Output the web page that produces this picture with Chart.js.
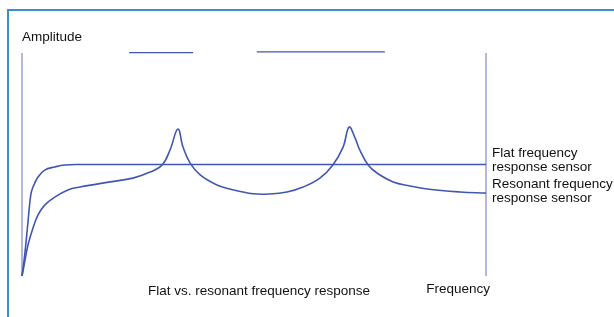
<!DOCTYPE html>
<html>
<head>
<meta charset="utf-8">
<script src="https://cdn.jsdelivr.net/npm/chart.js@4/dist/chart.umd.min.js"></script>
<style>
  html, body { margin: 0; padding: 0; background: #fff; overflow: hidden; }
  #wrap { position: relative; width: 614px; height: 317px; }
  #frame { position: absolute; left: 7px; top: 9px; width: 700px; height: 400px; border: 2px solid #3b8fca; box-sizing: border-box; }
  canvas { position: absolute; left: 0; top: 0; }
</style>
</head>
<body>
<div id="wrap">
  <div id="frame"></div>
  <canvas id="chart" width="614" height="317"></canvas>
</div>
<script>
// frequency (0..100, arbitrary units) and amplitude (0..100)
const flatFreq = [0, 0.58, 1.29, 1.88, 2.37, 3.45, 4.89, 7.05, 9.2, 12.5, 100];
const flatAmp  = [0, 9.4, 24.2, 36.3, 39.9, 44.4, 47.5, 48.9, 49.8, 50, 50];

const resFreq = [0, 0.58, 1.29, 2.37, 3.45, 4.89, 7.05, 9.9, 12.5, 19.0, 23.9, 27.6, 30.2, 31.9, 33.6,
                 34.7, 36.2, 38.4, 42.0, 44.8, 49.8, 53.4, 57.1, 60.6, 64.2, 67.0, 69.2, 70.5,
                 71.8, 72.8, 74.6, 76.5, 80.0, 83.6, 87.3, 94.4, 100];
const resAmp  = [0, 6.3, 13.9, 21.5, 27.4, 31.8, 35.4, 38.6, 39.9, 42.2, 43.9, 46.6, 49.8, 56.5, 65.9,
                 57.8, 50.7, 45.3, 40.8, 39.0, 36.9, 36.8, 37.7, 39.9, 43.9, 49.8, 57.8, 66.8,
                 61.8, 56.5, 49.8, 46.2, 42.2, 40.4, 39.0, 37.7, 37.2];

// two short strokes along the top edge
const topSegA = [[23.1, 100.2], [36.9, 100.2]];
const topSegB = [[50.6, 100.5], [78.2, 100.5]];

const seriesLabels = ['Flat frequency|response sensor', 'Resonant frequency|response sensor'];
const chartTitle = 'Flat vs. resonant frequency response';
const xTitle = 'Frequency';
const yTitle = 'Amplitude';

const lineColor = '#4057b2';
const axisColor = '#b3b7df';
const textColor = '#111111';
const font = '13.5px "Liberation Sans", Arial, sans-serif';

const toPts = (xs, ys) => xs.map((x, i) => ({ x: x, y: ys[i] }));

const textPlugin = {
    id: 'texts',
    afterDraw(chart) {
        const ctx = chart.ctx;
        const a = chart.chartArea;
        const ys = chart.scales.y;
        ctx.save();
        ctx.fillStyle = textColor;
        ctx.font = font;
        ctx.textBaseline = 'middle';

        ctx.textAlign = 'left';
        ctx.fillText(yTitle, a.left, a.top - 16);

        ctx.textAlign = 'center';
        ctx.fillText(chartTitle, (a.left + a.right) / 2 + 5, a.bottom + 15);

        ctx.textAlign = 'right';
        ctx.fillText(xTitle, a.right + 4, a.bottom + 13);

        // labels next to the end of each curve
        ctx.textAlign = 'left';
        const ends = [flatAmp[flatAmp.length - 1], resAmp[resAmp.length - 1]];
        const shift = [-4, -2];
        seriesLabels.forEach((lab, i) => {
            const y0 = ys.getPixelForValue(ends[i]) + shift[i];
            const lines = lab.split('|');
            ctx.fillText(lines[0], a.right + 6, y0 - 7);
            ctx.fillText(lines[1], a.right + 6, y0 + 7);
        });
        ctx.restore();
    }
};

const baseDs = { borderColor: lineColor, borderWidth: 1.6, pointRadius: 0, showLine: true, clip: false, fill: false, tension: 0.4 };

new Chart(document.getElementById('chart').getContext('2d'), {
    type: 'scatter',
    data: {
        datasets: [
            Object.assign({}, baseDs, { label: 'Flat', data: toPts(flatFreq, flatAmp) }),
            Object.assign({}, baseDs, { label: 'Resonant', data: toPts(resFreq, resAmp) }),
            Object.assign({}, baseDs, { label: 'a', data: topSegA.map(p => ({ x: p[0], y: p[1] })), borderWidth: 1.2, tension: 0 }),
            Object.assign({}, baseDs, { label: 'b', data: topSegB.map(p => ({ x: p[0], y: p[1] })), borderWidth: 1.2, tension: 0 })
        ]
    },
    options: {
        responsive: false,
        animation: false,
        layout: { padding: { left: 22, top: 53, right: 128, bottom: 41 } },
        plugins: {
            legend: { display: false },
            tooltip: { enabled: false },
            title: { display: false }
        },
        scales: {
            x: {
                type: 'linear',
                min: 0, max: 100,
                ticks: { display: false, stepSize: 100 },
                grid: { color: axisColor, lineWidth: 2, drawTicks: false },
                border: { display: false }
            },
            y: {
                min: 0, max: 100,
                display: false
            }
        }
    },
    plugins: [textPlugin]
});
</script>
</body>
</html>
